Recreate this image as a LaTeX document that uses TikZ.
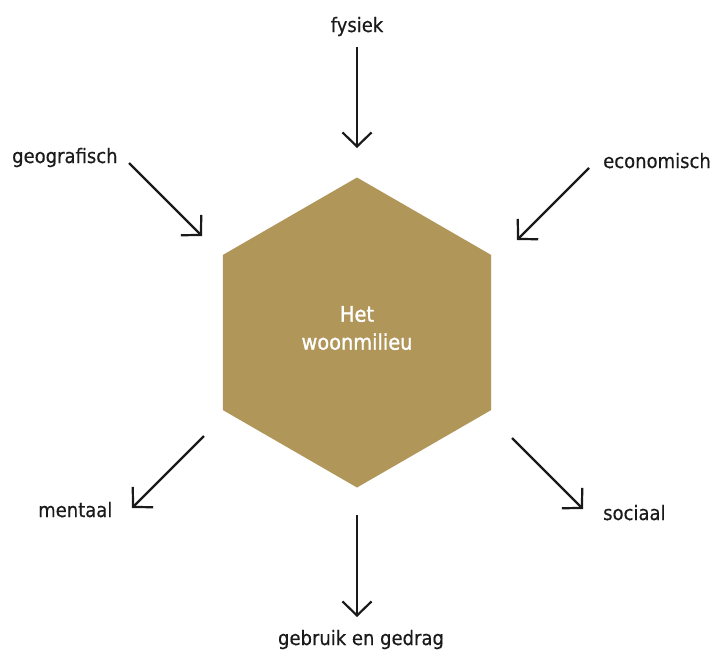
\documentclass[tikz,border=0pt]{standalone}
\usepackage{fontspec}
\setmainfont{DejaVu Sans}[FakeStretch=0.9,FakeBold=0.4]
\newfontfamily\titlefont{DejaVu Sans}[FakeStretch=0.9,FakeBold=1.2]
\usetikzlibrary{arrows.meta,shapes.geometric}
\definecolor{hexgold}{HTML}{B1965A}
\definecolor{ink}{HTML}{1A1A1A}
\tikzset{
  lbl/.style={font=\fontsize{20}{24}\selectfont, text=ink, inner sep=0pt},
  arr/.style={draw=ink, line width=2.2pt, -{Straight Barb[length=14pt,width=29pt,line width=2.2pt]}},
  hexa/.style={regular polygon, regular polygon sides=6, shape border rotate=30,
    minimum size=310pt, inner sep=0pt, fill=hexgold, draw=none},
}
\begin{document}
\begin{tikzpicture}[x=1pt,y=-1pt]
\useasboundingbox (0,0) rectangle (714,651);
\fill[white] (0,0) rectangle (714,651);
\node[hexa] (hex) at (357,332.5) {};
\node[font=\titlefont\fontsize{21.5}{28}\selectfont, text=white, align=center, inner sep=0pt] (title) at (357,328) {Het\\woonmilieu};
% labels
\node[lbl, anchor=base] (fys) at (357,32) {fysiek};
\node[lbl, anchor=base west] (geo) at (12,163) {geografisch};
\node[lbl, anchor=base west] (eco) at (603,168) {economisch};
\node[lbl, anchor=base west] (men) at (38,517) {mentaal};
\node[lbl, anchor=base west] (soc) at (603,520) {sociaal};
\node[lbl, anchor=base] (geb) at (361,645) {gebruik en gedrag};
% arrow ends
\coordinate (fysA) at (357,47);  \coordinate (fysB) at (357,148);
\coordinate (geoA) at (129,163); \coordinate (geoB) at (202,236);
\coordinate (ecoA) at (589,168); \coordinate (ecoB) at (517,240);
\coordinate (menA) at (204,436); \coordinate (menB) at (132,508);
\coordinate (socA) at (512,438); \coordinate (socB) at (583,509);
\coordinate (gebA) at (357,515); \coordinate (gebB) at (357,617);
\draw[arr] (fysA) -- (fysB);
\draw[arr] (geoA) -- (geoB);
\draw[arr] (ecoA) -- (ecoB);
\draw[arr] (menA) -- (menB);
\draw[arr] (socA) -- (socB);
\draw[arr] (gebA) -- (gebB);
\end{tikzpicture}
\end{document}
